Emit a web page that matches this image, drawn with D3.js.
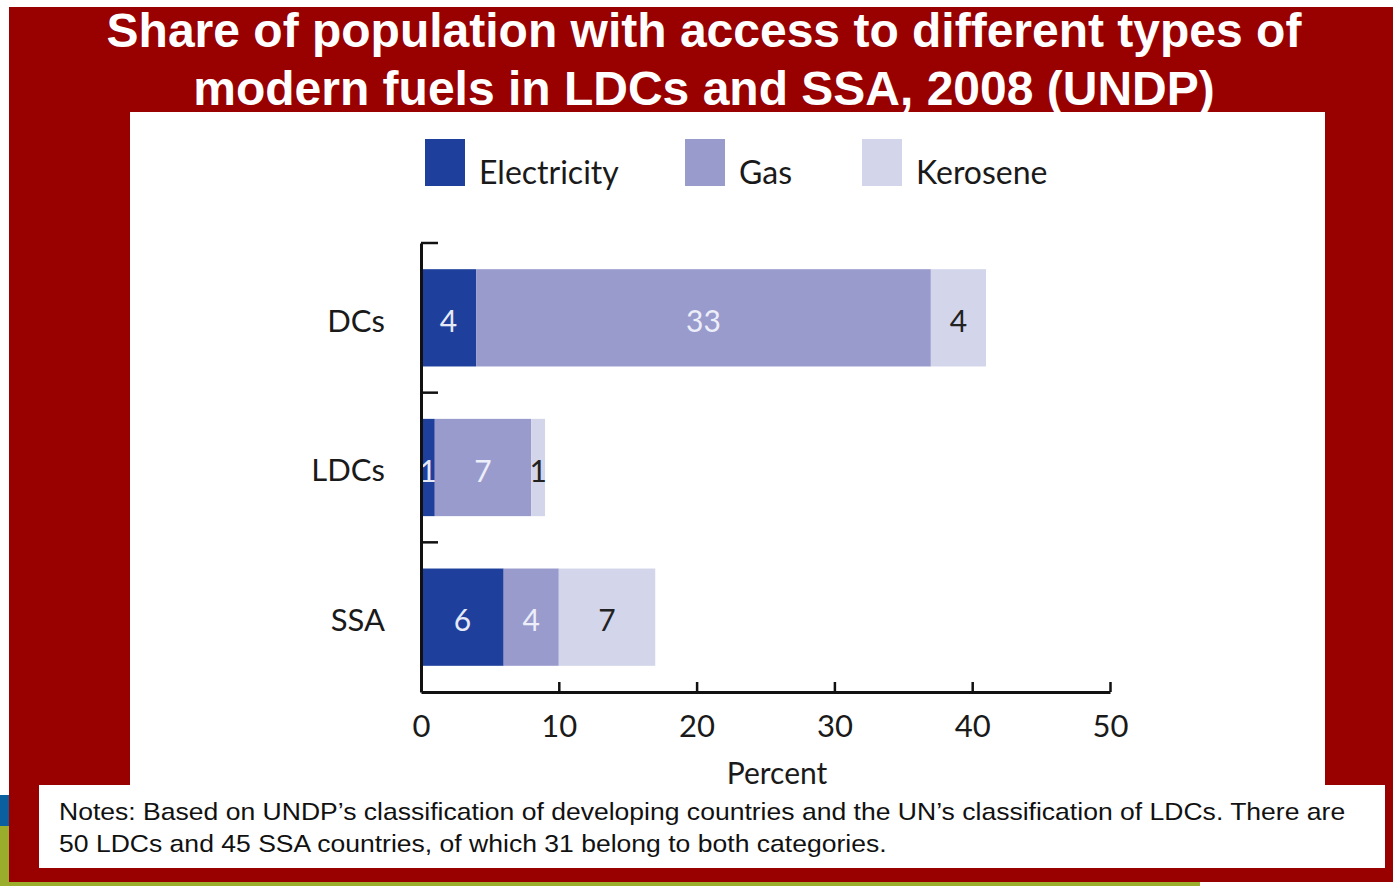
<!DOCTYPE html>
<html>
<head>
<meta charset="utf-8">
<script src="https://cdn.jsdelivr.net/npm/d3@7"></script>
<style>
  html, body { margin: 0; padding: 0; background: #ffffff; }
  svg { display: block; }
</style>
</head>
<body>
<svg id="chart" width="1393" height="886"></svg>
<script>
// Share of population with access to modern fuels, 2008 (percent)
const categories = ["DCs", "LDCs", "SSA"];
const seriesNames = ["Electricity", "Gas", "Kerosene"];
const electricity = [4, 1, 6];
const gas = [33, 7, 4];
const kerosene = [4, 1, 7];
const xTicks = [0, 10, 20, 30, 40, 50];

const titleLines = [
  "Share of population with access to different types of",
  "modern fuels in LDCs and SSA, 2008 (UNDP)"
];
const noteLines = [
  "Notes: Based on UNDP\u2019s classification of developing countries and the UN\u2019s classification of LDCs. There are",
  "50 LDCs and 45 SSA countries, of which 31 belong to both categories."
];

const colors = { Electricity: "#1e3f9c", Gas: "#9a9bcd", Kerosene: "#d3d5eb" };
const labelColors = { Electricity: "#e6eaf7", Gas: "#eceef9", Kerosene: "#222222" };
const chartFont = "Lato, 'Open Sans', sans-serif";

const rows = categories.map((c, i) => ({
  category: c, Electricity: electricity[i], Gas: gas[i], Kerosene: kerosene[i]
}));

const svg = d3.select("#chart");

// Slide frame
svg.append("rect").attr("x", 9).attr("y", 7).attr("width", 1384).attr("height", 875).attr("fill", "#990000");
svg.append("rect").attr("x", 0).attr("y", 795).attr("width", 9).attr("height", 31).attr("fill", "#0a5f9e");
svg.append("rect").attr("x", 0).attr("y", 826).attr("width", 9).attr("height", 60).attr("fill", "#9aae2b");
svg.append("rect").attr("x", 0).attr("y", 882).attr("width", 1200).attr("height", 4).attr("fill", "#9aae2b");

// Title
svg.append("g").selectAll("text").data(titleLines).join("text")
  .attr("x", 704).attr("y", (d, i) => 47 + i * 58)
  .attr("text-anchor", "middle")
  .attr("font-family", "'Liberation Sans', Arial, sans-serif")
  .attr("font-weight", "bold").attr("font-size", 48)
  .attr("fill", "#ffffff")
  .text(d => d);

// Chart panel
svg.append("rect").attr("x", 130).attr("y", 112).attr("width", 1195).attr("height", 673).attr("fill", "#ffffff");

// Notes panel
svg.append("rect").attr("x", 39).attr("y", 785).attr("width", 1346).attr("height", 83).attr("fill", "#ffffff");
svg.append("g").attr("transform", "translate(59,0) scale(1.106,1)")
  .selectAll("text").data(noteLines).join("text")
  .attr("x", 0).attr("y", (d, i) => 820 + i * 32)
  .attr("font-family", "'Liberation Sans', Arial, sans-serif")
  .attr("font-size", 24).attr("fill", "#111111")
  .text(d => d);

// Scales
const x = d3.scaleLinear().domain([0, 50]).range([421, 1110]);
const y = d3.scaleBand().domain(categories).range([243, 692]).paddingInner(0.35).paddingOuter(0.175);

const stack = d3.stack().keys(seriesNames);
const stacked = stack(rows);

// Bars
const layers = svg.append("g").selectAll("g").data(stacked).join("g")
  .attr("fill", d => colors[d.key]);
layers.selectAll("rect").data(d => d).join("rect")
  .attr("x", d => x(d[0]))
  .attr("width", d => x(d[1]) - x(d[0]))
  .attr("y", d => y(d.data.category))
  .attr("height", y.bandwidth());

// Segment value labels
const labelLayers = svg.append("g").selectAll("g").data(stacked).join("g")
  .attr("fill", d => labelColors[d.key]);
labelLayers.selectAll("text").data(d => d).join("text")
  .attr("x", d => (x(d[0]) + x(d[1])) / 2)
  .attr("y", d => y(d.data.category) + y.bandwidth() / 2 + 14)
  .attr("text-anchor", "middle")
  .attr("font-family", chartFont).attr("font-size", 30)
  .text(d => d[1] - d[0]);

// X axis
const xAxis = d3.axisBottom(x).tickValues(xTicks).tickSizeInner(-10).tickSizeOuter(0).tickPadding(0);
const gx = svg.append("g").attr("transform", "translate(0,692)").call(xAxis);
gx.select(".domain").attr("stroke", "#111").attr("stroke-width", 3);
gx.selectAll(".tick line").attr("stroke", "#111").attr("stroke-width", 2.5);
gx.selectAll(".tick text")
  .attr("y", 45).attr("dy", null)
  .attr("font-family", chartFont).attr("font-size", 31).attr("fill", "#1a1a1a");

svg.append("text").attr("x", 777).attr("y", 784)
  .attr("text-anchor", "middle")
  .attr("font-family", chartFont).attr("font-size", 30).attr("fill", "#1a1a1a")
  .text("Percent");

// Y axis: vertical line with ticks at band boundaries
const yAxis = d3.axisLeft(y).tickSize(0).tickPadding(36);
const gy = svg.append("g").attr("transform", "translate(421,0)").call(yAxis);
gy.select(".domain").attr("stroke", "#111").attr("stroke-width", 3);
gy.selectAll(".tick text")
  .attr("dy", "0.45em")
  .attr("font-family", chartFont).attr("font-size", 31).attr("fill", "#1a1a1a");

const bounds = categories.map((c, i) => y.range()[0] + i * y.step());
svg.append("g").selectAll("line").data(bounds).join("line")
  .attr("x1", 421).attr("x2", 438)
  .attr("y1", d => d).attr("y2", d => d)
  .attr("stroke", "#111").attr("stroke-width", 2.5);

// Legend
const legendX = [425, 685, 862];
const legend = svg.append("g").selectAll("g").data(seriesNames).join("g")
  .attr("transform", (d, i) => `translate(${legendX[i]},139)`);
legend.append("rect").attr("width", 40).attr("height", 47).attr("fill", d => colors[d]);
legend.append("text").attr("x", 54).attr("y", 45)
  .attr("font-family", chartFont).attr("font-size", 32).attr("fill", "#1a1a1a")
  .text(d => d);
</script>
</body>
</html>
